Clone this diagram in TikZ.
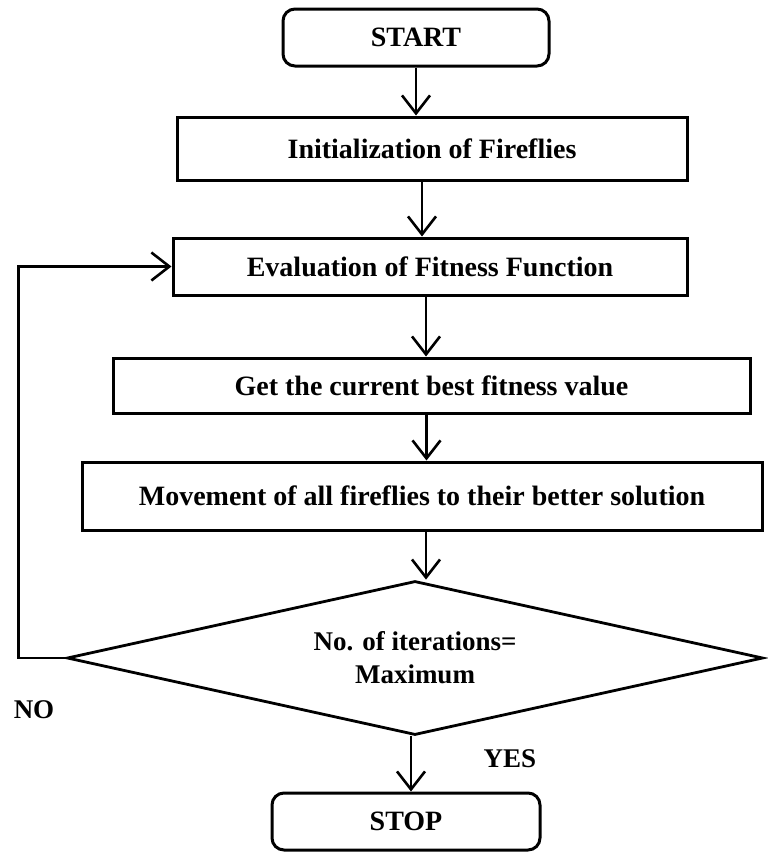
\documentclass[tikz,border=0pt]{standalone}
\usepackage{fontspec}
\setmainfont{Liberation Serif}
\usetikzlibrary{arrows.meta,positioning,calc,shapes.geometric}
\tikzset{
  procbox/.style={draw, line width=3pt, font=\fontsize{28}{32}\selectfont\bfseries,
                  align=center, inner sep=0pt},
  termbox/.style={procbox, rounded corners=12pt},
  decbox/.style={draw, diamond, shape aspect=4.5, line width=2.8pt,
                 font=\fontsize{27}{33}\selectfont\bfseries,
                 align=center, inner sep=0pt, minimum width=696pt, minimum height=154pt},
  flow/.style={-{Straight Barb[length=18pt,width=28pt,line width=2.6pt]}, line width=2.8pt},
  lbl/.style={font=\fontsize{27}{30}\selectfont\bfseries},
}
\begin{document}
\begin{tikzpicture}[x=1pt,y=-1pt]
\useasboundingbox (0,0) rectangle (768,854);
\node[termbox, minimum width=266pt, minimum height=57pt] (start) at (416,37.5) {START};
\node[procbox, minimum width=510pt, minimum height=63pt] (init) at (432,148.5) {Initialization of Fireflies};
\node[procbox, minimum width=514pt, minimum height=57pt] (eval) at (430,266.5) {Evaluation of Fitness Function};
\node[procbox, minimum width=637pt, minimum height=55pt] (best) at (431.5,385.5) {Get the current best fitness value};
\node[procbox, minimum width=680pt, minimum height=68pt] (move) at (422,496) {Movement of all fireflies to their better solution};
\node[decbox] (check) at (415,658) {No. of iterations=\\Maximum};
\node[termbox, minimum width=268pt, minimum height=57pt] (stop) at (406,821.5) {STOP};
\node[lbl] (no) at (34,710) {NO};
\node[lbl] (yes) at (510,759) {YES};
\draw[flow] (start.south) -- (start.south |- init.north);
\draw[flow] ([xshift=-10pt]init.south) -- ([xshift=-10pt]init.south |- eval.north);
\draw[flow] ([xshift=-4pt]eval.south) -- ([xshift=-4pt]eval.south |- best.north);
\draw[flow] ([xshift=-5pt]best.south) -- ([xshift=-5pt]best.south |- move.north);
\draw[flow] ([xshift=4pt]move.south) -- ([xshift=4pt]move.south |- check.north);
\draw[flow] ([xshift=-4pt]check.south) -- ([xshift=-4pt]check.south |- stop.north);
% loop back when the maximum is not reached
\draw[flow] (check.west) -- ++(-47,0) |- (eval.west);
\end{tikzpicture}
\end{document}
